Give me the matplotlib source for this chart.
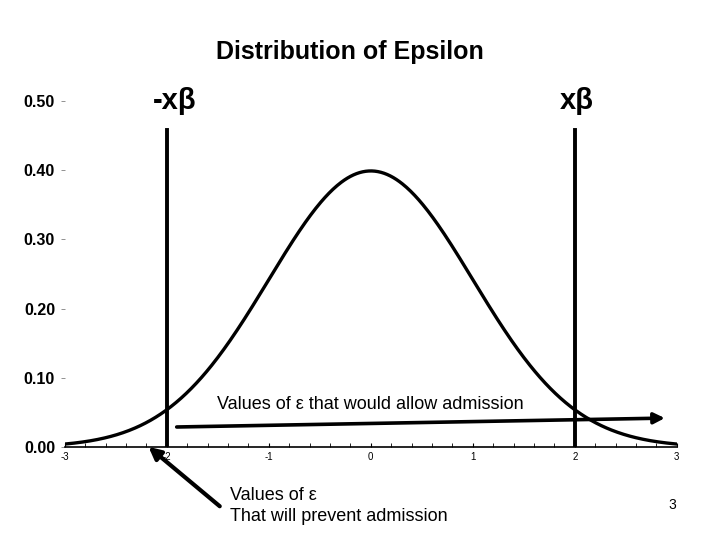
import numpy as np
import matplotlib
matplotlib.use("Agg")
import matplotlib.pyplot as plt

x_ticks = [-3, -2, -1, 0, 1, 2, 3]
y_ticks = [0.0, 0.1, 0.2, 0.3, 0.4, 0.5]
cutoffs = [-2, 2]
cutoff_labels = ["-xβ", "xβ"]
xs = np.linspace(-3, 3, 601)
density = np.exp(-xs**2 / 2) / np.sqrt(2 * np.pi)

plt.rcParams['font.family'] = ['Liberation Sans', 'DejaVu Sans']
fig = plt.figure(figsize=(7.2, 5.4), dpi=100)
ax = fig.add_axes([0.090, 0.172, 0.850, 0.641])
ax.plot(xs, density, color='black', lw=2.4)
for c, lab in zip(cutoffs, cutoff_labels):
    ax.plot([c, c], [0, 0.458], color='black', lw=2.8)
    ax.text(c + (0.08 if c < 0 else 0.02), 0.5, lab, ha='center', va='center',
            fontsize=21, fontweight='bold')
ax.set_xlim(-3, 3)
ax.set_ylim(0, 0.5)
for s in ['top', 'right', 'left']:
    ax.spines[s].set_visible(False)
ax.spines['bottom'].set_linewidth(1.2)
ax.set_xticks(x_ticks)
ax.set_xticklabels([str(t) for t in x_ticks], fontsize=7)
ax.set_xticks(np.arange(-3, 3.01, 0.2), minor=True)
ax.tick_params(axis='x', which='both', direction='in', length=3)
ax.set_yticks(y_ticks)
ax.set_yticklabels([f"{t:.2f}" for t in y_ticks], fontsize=11.5, fontweight='bold')
ax.tick_params(axis='y', length=3, width=0.6, pad=4, color='gray')

ax.annotate('', xy=(2.91, 0.042), xytext=(-1.93, 0.029),
            arrowprops=dict(arrowstyle='-|>', color='black', lw=2.6, mutation_scale=16))
ax.text(-1.51, 0.061, "Values of ε that would allow admission", fontsize=13, va='center')
ax.annotate('', xy=(-2.2, 0.003), xytext=(-1.46, -0.088),
            arrowprops=dict(arrowstyle='-|>', color='black', lw=3, mutation_scale=18),
            annotation_clip=False)
fig.text(230/720, 1-506/540, "Values of ε\nThat will prevent admission", fontsize=13,
         va='center', linespacing=1.25)
fig.text(350/720, 1-52/540, "Distribution of Epsilon", ha='center', va='center',
         fontsize=18, fontweight='bold')
fig.text(672/720, 1-505/540, "3", ha='center', va='center', fontsize=10)
fig.savefig("out.png", dpi=100)
